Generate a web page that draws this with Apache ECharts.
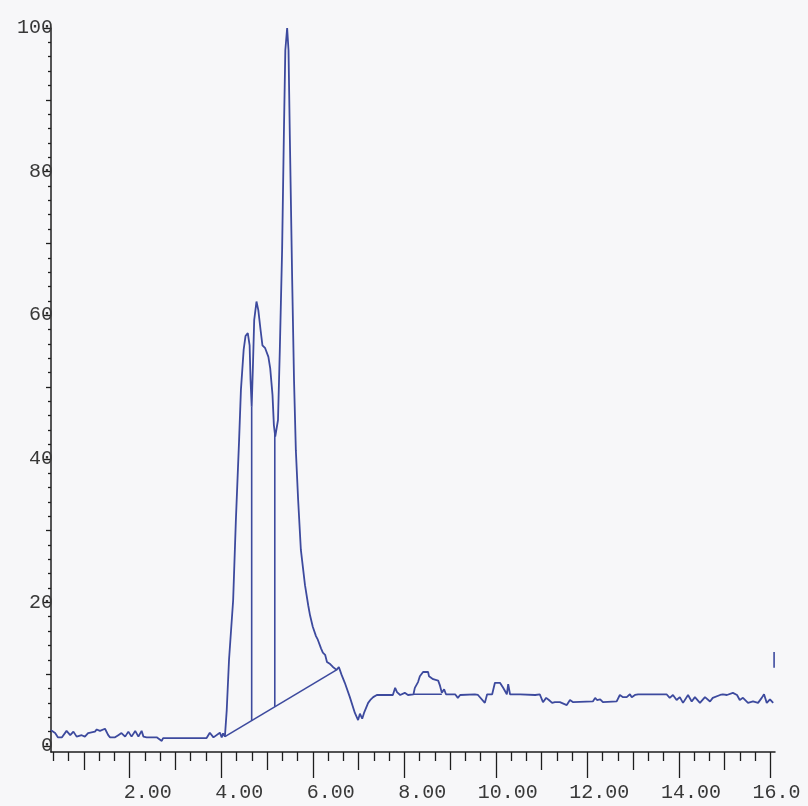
<!DOCTYPE html>
<html>
<head>
<meta charset="utf-8">
<title>Chromatogram</title>
<script src="https://cdn.jsdelivr.net/npm/echarts@6/dist/echarts.min.js"></script>
<style>
  html, body { margin: 0; padding: 0; background: #f7f7f9; }
  #chart { width: 808px; height: 806px; }
</style>
</head>
<body>
<div id="chart"></div>
<script>
// Retention time (min) and detector response (% of largest peak)
const times = [
  0.28, 0.32, 0.37, 0.43, 0.52, 0.62, 0.70, 0.77, 0.84, 0.95, 1.02, 1.09, 1.24, 1.28, 1.35, 1.39,
  1.46, 1.53, 1.57, 1.68, 1.75, 1.82, 1.90, 1.97, 2.04, 2.12, 2.19, 2.26, 2.30, 2.37, 2.59, 2.70,
  2.73, 3.68, 3.75, 3.83, 3.97, 4.01, 4.04, 4.08,
  4.12, 4.17, 4.26, 4.32, 4.39, 4.43, 4.49, 4.53, 4.58, 4.62, 4.64, 4.665, 4.69, 4.72, 4.77, 4.81,
  4.86, 4.90, 4.96, 5.03, 5.07, 5.12, 5.15, 5.18, 5.24, 5.28, 5.33, 5.37, 5.40, 5.44, 5.47, 5.50,
  5.55, 5.59, 5.63, 5.68, 5.74, 5.83, 5.90, 5.94, 6.00, 6.07, 6.11, 6.18, 6.22, 6.27, 6.31, 6.38,
  6.44, 6.52, 6.57, 6.63, 6.70, 6.81, 6.92, 6.99, 7.03, 7.08, 7.12, 7.21, 7.27, 7.32, 7.40, 7.75,
  7.80, 7.84, 7.91, 8.01, 8.08, 8.20, 8.23, 8.30, 8.34, 8.41, 8.52, 8.54, 8.56, 8.58, 8.63, 8.74,
  8.78, 8.82, 8.87, 8.91, 9.11, 9.17, 9.22, 9.54, 9.61, 9.76, 9.81, 9.92, 9.98, 10.09, 10.16, 10.20,
  10.24, 10.27, 10.31, 10.53, 10.86, 10.96, 11.03, 11.10, 11.16, 11.23, 11.29, 11.40, 11.55, 11.62,
  11.69, 12.12, 12.17, 12.21, 12.28, 12.34, 12.64, 12.71, 12.78, 12.86, 12.93, 12.97, 13.04, 13.11,
  13.73, 13.80, 13.87, 13.95, 14.02, 14.09, 14.20, 14.28, 14.35, 14.46, 14.57, 14.68, 14.74, 14.90,
  14.96, 15.05, 15.18, 15.27, 15.33, 15.40, 15.51, 15.62, 15.73, 15.81, 15.86, 15.92, 15.99, 16.06
];
const signal = [
  2.2, 2.2, 1.8, 1.2, 1.2, 2.1, 1.5, 2.0, 1.3, 1.5, 1.3, 1.8, 2.0, 2.3, 2.1, 2.2,
  2.4, 1.5, 1.2, 1.2, 1.5, 1.8, 1.3, 2.0, 1.3, 2.1, 1.3, 2.1, 1.3, 1.2, 1.2, 0.7,
  1.1, 1.1, 1.85, 1.2, 1.85, 1.2, 1.75, 1.3,
  5.0, 12.0, 20.3, 31.5, 42.6, 49.6, 55.2, 57.1, 57.5, 55.8, 51.0, 47.3, 52.4, 59.3, 61.9, 60.7,
  57.9, 55.8, 55.4, 54.2, 52.6, 48.9, 44.7, 43.1, 45.4, 55.2, 69.1, 85.8, 96.9, 100.0, 96.9, 84.4,
  64.9, 51.0, 41.2, 34.3, 27.3, 22.4, 19.6, 18.2, 16.6, 15.3, 14.8, 13.6, 13.0, 12.7, 11.7, 11.4,
  11.0, 10.6, 11.0, 9.9, 8.8, 6.8, 4.6, 3.6, 4.5, 3.8, 4.6, 6.0, 6.5, 6.8, 7.1, 7.1,
  8.1, 7.5, 7.1, 7.4, 7.1, 7.2, 8.1, 8.9, 9.7, 10.3, 10.3, 9.7, 9.5, 9.9, 9.3, 9.1,
  8.4, 7.4, 7.9, 7.2, 7.2, 6.7, 7.1, 7.2, 7.1, 6.0, 7.2, 7.2, 8.8, 8.8, 8.1, 8.2,
  7.2, 8.6, 7.2, 7.2, 7.1, 7.2, 6.1, 6.7, 6.4, 6.0, 6.1, 6.1, 5.7, 6.4,
  6.1, 6.2, 6.7, 6.4, 6.5, 6.1, 6.2, 7.1, 6.8, 6.8, 7.2, 6.8, 7.1, 7.2,
  7.2, 6.7, 7.1, 6.4, 6.8, 6.0, 7.1, 6.2, 6.8, 6.0, 6.8, 6.2, 6.7, 7.1,
  7.2, 7.1, 7.4, 7.1, 6.4, 6.7, 6.0, 6.2, 6.0, 6.7, 7.2, 6.0, 6.5, 6.0
];

// Integration marks: baseline under the main cluster, peak drop lines,
// baseline under the small peak near 8.5 min, and an event marker.
const clusterBaseline = [[4.08, 1.3], [6.52, 10.6]];
const dropLines = [
  [[4.665, 3.5], [4.665, 47.3]],
  [[5.17, 5.45], [5.17, 43.5]]
];
const minorBaseline = [[8.20, 7.2], [8.82, 7.2]];
const eventMark = [[16.08, 10.9], [16.08, 13.1]];

// Axis ticks and labels
const xLabelValues = [2, 4, 6, 8, 10, 12, 14, 16];
const xMediumTicks = [1, 3, 5, 7, 9, 11, 13, 15];
const xMinorTicks = [];
for (let i = 1; i < 49; i++) { if (i % 3 !== 0) xMinorTicks.push(i / 3); }
const yLabelValues = [0, 20, 40, 60, 80, 100];
const yMediumTicks = [10, 30, 50, 70, 90];
const yMinorTicks = [2, 4, 6, 8, 12, 14, 16, 18, 22, 24, 26, 28, 32, 34, 36, 38, 42, 44, 46, 48,
  52, 54, 56, 58, 62, 64, 66, 68, 72, 74, 76, 78, 82, 84, 86, 88, 92, 94, 96, 98];

const X_MIN = 0.28, X_MAX = 16.1, Y_MIN = -0.84, Y_MAX = 100;
const AXIS_COLOR = '#1e1e1e';
const TRACE_COLOR = '#3d4a9e';
const FONT = '"Liberation Mono", "DejaVu Sans Mono", monospace';

function xLabel(v) {
  const n = Math.round(v);
  if (n === 16) return '  16.0 ';
  const s = n.toFixed(2);
  return (n < 10 ? '   ' : '  ') + s;
}

function xAxisLayer(values, len, withLine, withLabels) {
  return {
    type: 'value', min: X_MIN, max: X_MAX, position: 'bottom', gridIndex: 0,
    axisLine: { show: withLine, onZero: false, lineStyle: { color: AXIS_COLOR, width: 1.5 } },
    axisTick: { show: true, customValues: values, length: len, lineStyle: { color: AXIS_COLOR, width: 1.3 } },
    axisLabel: withLabels ? {
      show: true, customValues: xLabelValues, formatter: xLabel, margin: 31,
      fontFamily: FONT, fontSize: 20, color: '#383838'
    } : { show: false },
    splitLine: { show: false }
  };
}

function yAxisLayer(values, len, withLine, withLabels) {
  return {
    type: 'value', min: Y_MIN, max: Y_MAX, position: 'left', gridIndex: 0,
    axisLine: { show: withLine, onZero: false, lineStyle: { color: AXIS_COLOR, width: 1.5 } },
    axisTick: { show: true, customValues: values, length: len, lineStyle: { color: AXIS_COLOR, width: 1.3 } },
    axisLabel: withLabels ? {
      show: true, customValues: yLabelValues, margin: -2, align: 'right',
      padding: [0, 0, 7, 0],
      fontFamily: FONT, fontSize: 20, color: '#383838'
    } : { show: false },
    splitLine: { show: false }
  };
}

function segment(points, color) {
  return {
    type: 'line', data: points, xAxisIndex: 0, yAxisIndex: 0,
    showSymbol: false, symbol: 'none', silent: true,
    lineStyle: { color: color, width: 1.6 }, z: 3
  };
}

const chart = echarts.init(document.getElementById('chart'), null, { renderer: 'canvas' });
chart.setOption({
  backgroundColor: '#f7f7f9',
  animation: false,
  grid: { left: 51, right: 33, top: 28, bottom: 54, containLabel: false, outerBoundsMode: 'none' },
  xAxis: [
    xAxisLayer(xMinorTicks, 9, true, true),
    xAxisLayer(xMediumTicks, 18, false, false),
    xAxisLayer(xLabelValues, 26, false, false)
  ],
  yAxis: [
    yAxisLayer(yMinorTicks, 3, true, true),
    yAxisLayer(yMediumTicks, 5, false, false),
    yAxisLayer(yLabelValues, 8, false, false)
  ],
  series: [
    {
      type: 'line', name: 'signal',
      data: times.map((t, i) => [t, signal[i]]),
      showSymbol: false, symbol: 'none',
      lineStyle: { color: TRACE_COLOR, width: 1.8 }, z: 4
    },
    segment(clusterBaseline, TRACE_COLOR),
    segment(dropLines[0], TRACE_COLOR),
    segment(dropLines[1], TRACE_COLOR),
    segment(minorBaseline, TRACE_COLOR),
    segment(eventMark, TRACE_COLOR)
  ]
});
</script>
</body>
</html>
